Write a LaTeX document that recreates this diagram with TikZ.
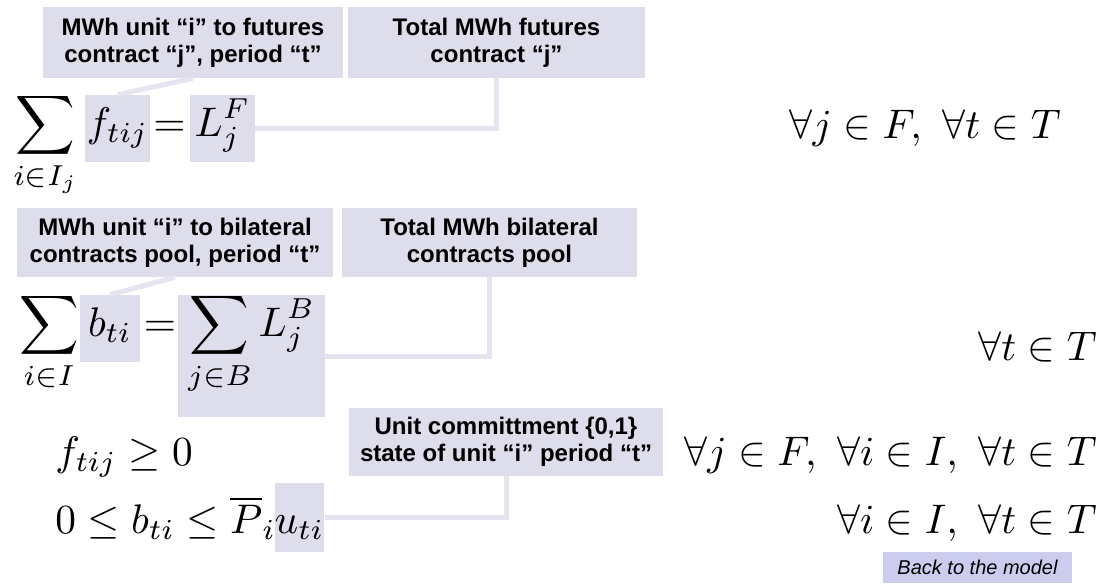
\documentclass[tikz,border=0pt]{standalone}
\usepackage{amsmath,amssymb}
\usepackage{graphicx}
\usepackage{fontspec}
\newfontfamily\labelfont{Liberation Sans}
\usetikzlibrary{calc,positioning}
\definecolor{notefill}{RGB}{221,221,236}
\definecolor{linkcol}{RGB}{229,229,242}
\definecolor{backfill}{RGB}{204,204,238}
\newcommand{\eqs}[1]{\scalebox{3.1}{$\displaystyle #1$}}
\tikzset{
note/.style={fill=notefill, inner sep=0pt, align=center, font=\labelfont\bfseries\fontsize{18}{20.5}\selectfont}, % the grey call-out boxes
hl/.style={fill=notefill, inner sep=0pt, anchor=base}, % highlighted part of a formula
eqn/.style={inner sep=0pt},
link/.style={draw=linkcol, line width=3.75pt},
backbtn/.style={fill=backfill, inner sep=0pt, font=\labelfont\itshape\fontsize{15}{18}\selectfont},
}

\begin{document}
\begin{tikzpicture}[x=0.75pt,y=0.75pt,yscale=-1,xscale=1]
\useasboundingbox (0,0) rectangle (1106,583);
%Call-outs
\node[note, minimum width=225pt, minimum height=53.25pt] (futUnit) at (193,42.5) {MWh unit “i” to futures\\contract “j”, period “t”};
\node[note, minimum width=222.75pt, minimum height=53.25pt] (futTot) at (496.5,42.5) {Total MWh futures\\contract “j”};
\node[note, minimum width=237pt, minimum height=51.75pt] (bilUnit) at (175,242.5) {MWh unit “i” to bilateral\\contracts pool, period “t”};
\node[note, minimum width=221.25pt, minimum height=51.75pt] (bilTot) at (489.5,242.5) {Total MWh bilateral\\contracts pool};
\node[note, minimum width=235.5pt, minimum height=51pt] (ucState) at (506,442) {Unit committment \{0,1\}\\state of unit “i” period “t”};
%Row 1
\node[eqn, anchor=base west] (sumF) at (13,136) {\eqs{\sum_{i\in I_j}}};
\node[eqn, hl, minimum width=48.75pt, text height=30.75pt, text depth=19.5pt] (fVar) at (117.5,136) {\eqs{f_{tij}}};
\node[eqn, anchor=base] (eqF) at (169.5,136) {\eqs{=}};
\node[eqn, hl, minimum width=48.75pt, text height=30.75pt, text depth=19.5pt] (LF) at (222.5,136) {\eqs{L_j^F}};
\node[eqn, anchor=base east] (forF) at (1061,138) {\eqs{\forall j\in F,\ \forall t\in T}};
%Row 2
\node[eqn, anchor=base west] (sumB) at (19,336) {\eqs{\sum_{i\in I}}};
\node[eqn, hl, minimum width=45pt, text height=30.75pt, text depth=19.5pt] (bVar) at (110,336) {\eqs{b_{ti}}};
\node[eqn, anchor=base] (eqB) at (160,336) {\eqs{=}};
\node[eqn, hl, minimum width=110.25pt, text height=30.75pt, text depth=60.75pt] (LB) at (251.5,336) {\eqs{\sum_{j\in B} L_j^B}};
\node[eqn, anchor=base east] (forB) at (1097,360) {\eqs{\forall t\in T}};
%Row 3
\node[eqn, anchor=base west] (fPos) at (55,465) {\eqs{f_{tij}\geq 0}};
\node[eqn, anchor=base east] (forFIT) at (1097,465) {\eqs{\forall j\in F,\ \forall i\in I,\ \forall t\in T}};
%Row 4
\node[eqn, anchor=base west] (bCap) at (55,533) {\eqs{0\leq b_{ti}\leq\overline{P}_i}};
\node[eqn, hl, minimum width=36.75pt, text height=37.5pt, text depth=14.25pt] (uVar) at (299.5,533) {\eqs{u_{ti}}};
\node[eqn, anchor=base east] (forIT) at (1097,533) {\eqs{\forall i\in I,\ \forall t\in T}};
%Link back
\node[backbtn, minimum width=141.75pt, minimum height=23.25pt] (back) at (977.5,567.5) {Back to the model};
%Connectors
\draw[link] (futUnit.south) -- (fVar.north);
\draw[link] (LF.east) -| (futTot.south);
\draw[link] (bilUnit.south) -- (bVar.north);
\draw[link] (LB.east) -| (bilTot.south);
\draw[link] (uVar.east) -| (ucState.south);
\end{tikzpicture}
\end{document}
